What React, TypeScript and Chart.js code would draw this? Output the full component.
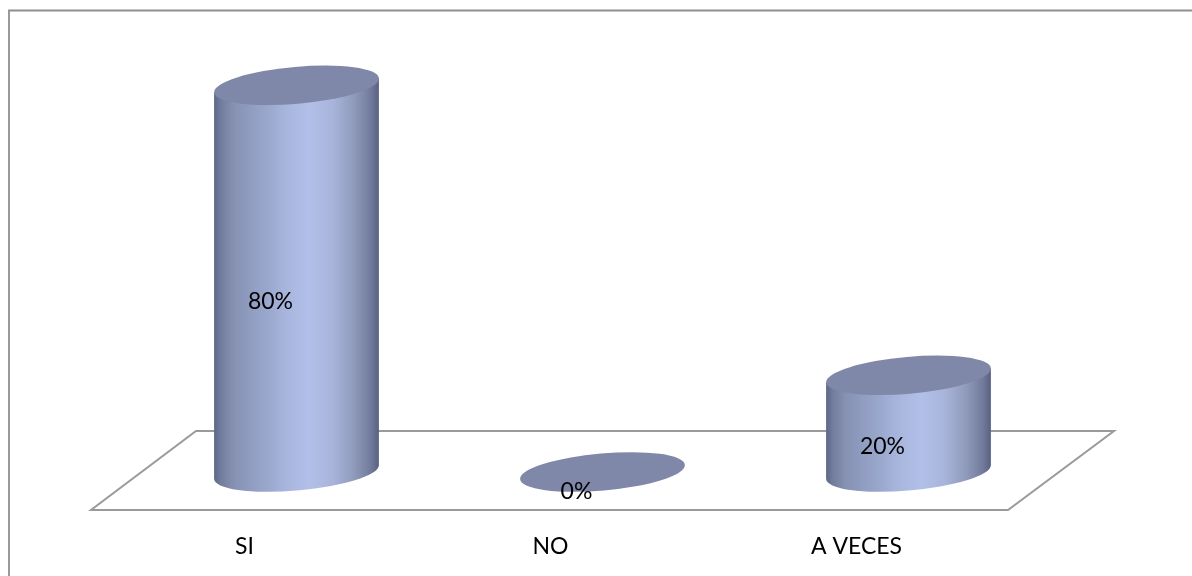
import React, { useEffect, useRef } from "react";
import { Chart, registerables } from "chart.js";

Chart.register(...registerables);

const categories = ["SI", "NO", "A VECES"];
const percentages = [80, 0, 20];

const TEXT_FONT = "23px Lato";
const TILT = (-5 * Math.PI) / 180;
const MINOR_RADIUS = 18.5;

// Draws the frame and the slanted floor behind the columns.
const floorPlugin = {
  id: "floor",
  beforeDatasetsDraw(chart: any) {
    const { ctx, chartArea } = chart;
    const front = chartArea.bottom + 38;
    const back = chartArea.bottom - 41;
    ctx.save();
    ctx.strokeStyle = "#8f8f8f";
    ctx.lineWidth = 1.8;
    ctx.beginPath();
    ctx.moveTo(9, chart.height + 4);
    ctx.lineTo(9, 10.5);
    ctx.lineTo(chart.width + 4, 10.5);
    ctx.stroke();
    ctx.strokeStyle = "#9a9a9a";
    ctx.lineWidth = 2;
    ctx.beginPath();
    ctx.moveTo(chartArea.left - 52.5, front);
    ctx.lineTo(chartArea.right - 53.5, front);
    ctx.lineTo(chartArea.right + 52.5, back);
    ctx.lineTo(chartArea.left + 52.5, back);
    ctx.closePath();
    ctx.stroke();
    ctx.restore();
  },
};

// Paints every bar element as a cylinder and prints its percentage.
const cylinderPlugin = {
  id: "cylinders",
  afterDatasetsDraw(chart: any) {
    const { ctx } = chart;
    const meta = chart.getDatasetMeta(0);
    meta.data.forEach((bar: any, i: number) => {
      const a = bar.width / 2 + 0.2;
      const b = MINOR_RADIUS;
      const t0 = Math.atan2(-b * Math.sin(TILT), a * Math.cos(TILT));
      const dx = a * Math.cos(t0) * Math.cos(TILT) - b * Math.sin(t0) * Math.sin(TILT);
      const dy = a * Math.cos(t0) * Math.sin(TILT) + b * Math.sin(t0) * Math.cos(TILT);
      const hasBody = bar.base - bar.y > 0.5;
      ctx.save();
      if (hasBody) {
        const g = ctx.createLinearGradient(bar.x - dx, 0, bar.x + dx, 0);
        g.addColorStop(0, "#5c6685");
        g.addColorStop(0.04, "#727d9e");
        g.addColorStop(0.12, "#8691b3");
        g.addColorStop(0.3, "#98a5ca");
        g.addColorStop(0.45, "#a9b6de");
        g.addColorStop(0.58, "#b2bfe8");
        g.addColorStop(0.72, "#a8b4da");
        g.addColorStop(0.85, "#8f9abb");
        g.addColorStop(0.95, "#727b9b");
        g.addColorStop(1, "#596180");
        ctx.fillStyle = g;
        ctx.beginPath();
        ctx.ellipse(bar.x, bar.base, a, b, TILT, t0, t0 + Math.PI);
        ctx.lineTo(bar.x - dx, bar.y - dy);
        ctx.lineTo(bar.x + dx, bar.y + dy);
        ctx.closePath();
        ctx.fill();
      }
      ctx.fillStyle = "#7f88a8";
      ctx.beginPath();
      ctx.ellipse(bar.x, bar.y, a, b, TILT, 0, Math.PI * 2);
      ctx.fill();

      ctx.fillStyle = "#000000";
      ctx.font = TEXT_FONT;
      ctx.textAlign = "center";
      ctx.textBaseline = "middle";
      ctx.fillText(`${percentages[i]}%`, bar.x - 26, (bar.y + bar.base) / 2 + (hasBody ? 23 : 20));
      ctx.restore();
    });
  },
};

export default function App() {
  const ref = useRef<HTMLCanvasElement | null>(null);

  useEffect(() => {
    const chart = new Chart(ref.current as HTMLCanvasElement, {
      type: "bar",
      data: {
        labels: categories,
        datasets: [
          {
            data: percentages,
            backgroundColor: "rgba(0,0,0,0)",
            categoryPercentage: 1,
            barPercentage: 165 / 306,
          },
        ],
      },
      options: {
        animation: false,
        responsive: false,
        layout: { padding: { left: 143.5, right: 130.5, top: 37, bottom: 0 } },
        plugins: { legend: { display: false }, tooltip: { enabled: false } },
        scales: {
          x: {
            grid: { display: false },
            border: { display: false },
            afterFit: (scale: any) => {
              scale.height = 104;
            },
            ticks: {
              color: "#000000",
              font: { family: "Lato", size: 23 },
              padding: 53,
              labelOffset: -52,
              maxRotation: 0,
              autoSkip: false,
            },
          },
          y: { display: false, min: 0, max: 90 },
        },
      },
      plugins: [floorPlugin, cylinderPlugin],
    });
    return () => chart.destroy();
  }, []);

  return (
    <div style={{ position: "absolute", left: 0, top: 0, width: 1192, height: 576, background: "#ffffff" }}>
      <canvas ref={ref} width={1192} height={576} style={{ display: "block" }} />
    </div>
  );
}
